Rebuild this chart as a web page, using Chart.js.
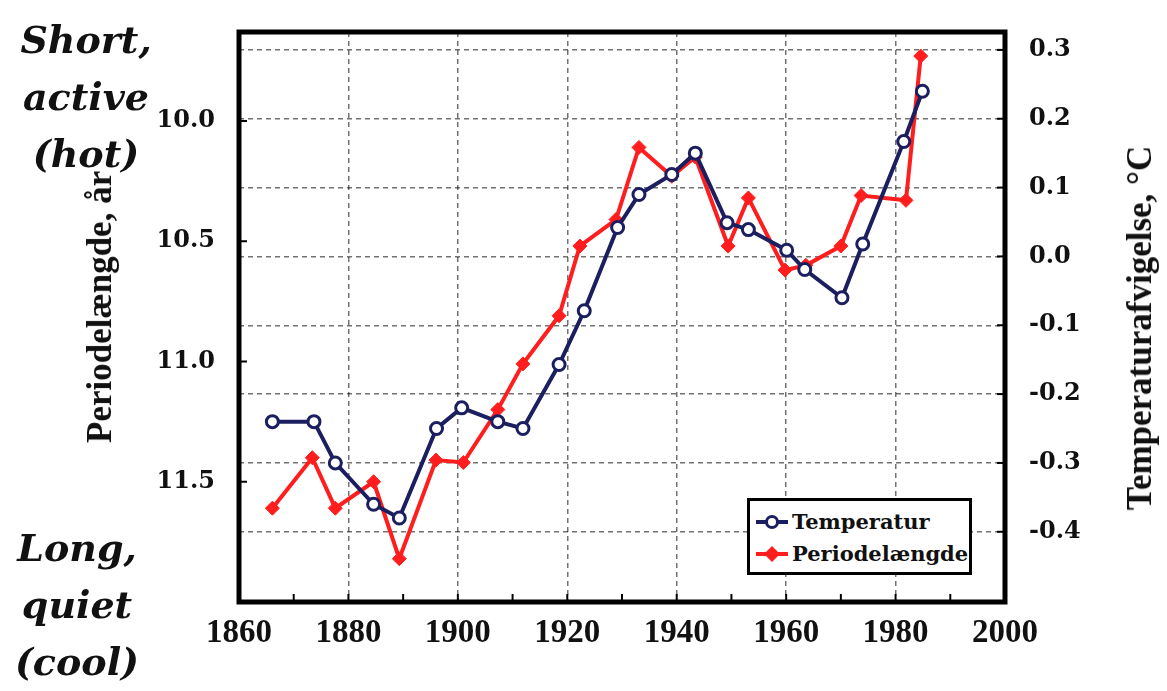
<!DOCTYPE html>
<html>
<head>
<meta charset="utf-8">
<script src="https://cdn.jsdelivr.net/npm/chart.js@4.4.0/dist/chart.umd.min.js"></script>
<style>
html,body{margin:0;padding:0;background:#fff;}
#wrap{position:relative;width:1167px;height:691px;overflow:hidden;background:#fff;}
#c{position:absolute;left:0;top:0;}
.note{position:absolute;font-family:'DejaVu Serif',serif;font-weight:bold;font-style:italic;font-size:38px;line-height:57px;text-align:center;color:#111;white-space:nowrap;}
.atitle{position:absolute;font-family:'Liberation Serif',serif;font-weight:bold;font-size:35px;white-space:nowrap;color:#111;transform:translate(-50%,-50%) rotate(-90deg);}
#legend{position:absolute;left:747px;top:498px;width:219px;height:71px;border:3px solid #000;background:#fff;font-family:'DejaVu Serif',serif;font-weight:bold;font-size:21px;color:#111;}
#legend .row{position:absolute;left:0;height:30px;line-height:30px;white-space:nowrap;}
#legend .row span{position:absolute;left:42px;top:0;}
#legend svg{position:absolute;left:4px;top:5px;}
</style>
</head>
<body>
<div id="wrap">
<canvas id="c" width="1167" height="691"></canvas>
<div class="note" style="left:0;width:172px;top:11px;">Short,<br>active<br>(hot)</div>
<div class="note" style="left:0;width:154px;top:519px;">Long,<br>quiet<br>(cool)</div>
<div class="atitle" id="ltitle" style="left:100px;top:307px;"></div>
<div class="atitle" id="rtitle" style="left:1140px;top:328px;"></div>
<div id="legend"></div>
</div>
<script>
// ---- data ----
const xTickYears = [1860, 1880, 1900, 1920, 1940, 1960, 1980, 2000];
const periodTicks = [10.0, 10.5, 11.0, 11.5];
const tempTicks = [-0.4, -0.3, -0.2, -0.1, 0.0, 0.1, 0.2, 0.3];

const tempLabel = 'Temperatur';
const tempYears = [1866.1, 1873.7, 1877.6, 1884.6, 1889.3, 1896.1, 1900.7, 1907.3, 1911.9, 1918.5, 1923.1, 1929.2, 1933.1, 1939.1, 1943.4, 1949.2, 1953.1, 1960.1, 1963.4, 1970.2, 1974.0, 1981.5, 1984.9];
const tempValues = [-0.24, -0.24, -0.30, -0.36, -0.38, -0.25, -0.22, -0.24, -0.25, -0.157, -0.079, 0.042, 0.09, 0.119, 0.15, 0.049, 0.039, 0.009, -0.019, -0.06, 0.018, 0.167, 0.24];

const periodLabel = 'Periodelængde';
const periodYears = [1866.1, 1873.4, 1877.6, 1884.6, 1889.3, 1896.0, 1901.0, 1907.3, 1911.9, 1918.5, 1922.3, 1928.9, 1933.1, 1939.1, 1943.4, 1949.4, 1953.1, 1959.8, 1963.6, 1970.0, 1973.7, 1981.9, 1984.6];
const periodValues = [11.61, 11.40, 11.61, 11.50, 11.82, 11.41, 11.42, 11.20, 11.01, 10.81, 10.52, 10.41, 10.11, 10.23, 10.15, 10.52, 10.32, 10.62, 10.60, 10.52, 10.31, 10.33, 9.73];

const leftTitle = 'Periodelængde, år';
const rightTitle = 'Temperaturafvigelse, °C';

// ---- colours ----
const navy = '#1c1f5f';
const red = '#ff1d1d';

document.getElementById('ltitle').textContent = leftTitle;
document.getElementById('rtitle').textContent = rightTitle;

// legend (HTML)
const legend = document.getElementById('legend');
legend.innerHTML =
 '<div class="row" style="top:6px;width:100%"><svg width="36" height="20"><line x1="2" y1="10" x2="34" y2="10" stroke="'+navy+'" stroke-width="4"/><circle cx="18" cy="10" r="5.5" fill="#fff" stroke="'+navy+'" stroke-width="3"/></svg><span>'+tempLabel+'</span></div>' +
 '<div class="row" style="top:38px;width:100%"><svg width="36" height="20"><line x1="2" y1="10" x2="34" y2="10" stroke="'+red+'" stroke-width="4"/><polygon points="18,2 26,10 18,18 10,10" fill="'+red+'"/></svg><span>'+periodLabel+'</span></div>';

const frame = {
  id: 'frame',
  afterDraw(chart) {
    const {ctx, chartArea: a, scales} = chart;
    ctx.save();
    ctx.strokeStyle = '#000';
    ctx.lineWidth = 2;
    const xs = scales.x;
    for (let y = 1870; y < 2000; y += 10) {
      const px = xs.getPixelForValue(y);
      ctx.beginPath(); ctx.moveTo(px, a.bottom); ctx.lineTo(px, a.bottom - 8); ctx.stroke();
    }
    periodTicks.forEach(v => {
      const py = scales.yL.getPixelForValue(v);
      ctx.beginPath(); ctx.moveTo(a.left, py); ctx.lineTo(a.left + 8, py); ctx.stroke();
    });
    tempTicks.forEach(v => {
      const py = scales.yR.getPixelForValue(v);
      ctx.beginPath(); ctx.moveTo(a.right, py); ctx.lineTo(a.right - 8, py); ctx.stroke();
    });
    ctx.lineWidth = 5;
    ctx.strokeRect(a.left, a.top, a.right - a.left, a.bottom - a.top);
    ctx.restore();
  }
};

function fixV(w) {
  return s => { s.width = w; s.paddingTop = 0; s.paddingBottom = 0; };
}

new Chart(document.getElementById('c'), {
  type: 'line',
  data: {
    datasets: [
      {
        label: tempLabel,
        data: tempYears.map((x, i) => ({x: x, y: tempValues[i]})),
        yAxisID: 'yR',
        borderColor: navy,
        borderWidth: 4,
        backgroundColor: '#ffffff',
        pointStyle: 'circle',
        pointRadius: 6,
        pointBorderWidth: 3,
        pointBorderColor: navy,
        pointBackgroundColor: '#ffffff',
        tension: 0
      },
      {
        label: periodLabel,
        data: periodYears.map((x, i) => ({x: x, y: periodValues[i]})),
        yAxisID: 'yL',
        borderColor: red,
        borderWidth: 4,
        backgroundColor: red,
        pointStyle: 'rectRot',
        pointRadius: 7,
        pointBorderWidth: 1,
        pointBorderColor: red,
        pointBackgroundColor: red,
        tension: 0
      }
    ]
  },
  options: {
    responsive: false,
    animation: false,
    devicePixelRatio: 1,
    layout: {padding: {top: 32, left: 0, right: 0, bottom: 0}},
    plugins: {legend: {display: false}, tooltip: {enabled: false}},
    scales: {
      x: {
        type: 'linear',
        position: 'bottom',
        min: 1860, max: 2000,
        afterBuildTicks: s => { s.ticks = xTickYears.map(v => ({value: v})); },
        afterFit: s => { s.height = 89; s.paddingLeft = 0; s.paddingRight = 0; },
        ticks: {
          color: '#111',
          padding: 12,
          maxRotation: 0,
          font: {family: 'Liberation Serif', weight: 'bold', size: 33},
          callback: v => String(v)
        },
        grid: {display: true, drawTicks: false, color: 'rgba(20,20,20,0.6)', lineWidth: 1.5},
        border: {display: false, dash: [5, 4]}
      },
      yL: {
        type: 'linear',
        position: 'left',
        reverse: true,
        min: 9.63, max: 12.0,
        afterBuildTicks: s => { s.ticks = periodTicks.map(v => ({value: v})); },
        afterFit: fixV(239),
        ticks: {
          color: '#111',
          padding: 24,
          font: {family: 'DejaVu Serif', weight: 'bold', size: 24},
          callback: v => Number(v).toFixed(1)
        },
        grid: {display: false, drawTicks: false},
        border: {display: false}
      },
      yR: {
        type: 'linear',
        position: 'right',
        min: -0.502, max: 0.326,
        afterBuildTicks: s => { s.ticks = tempTicks.map(v => ({value: v})); },
        afterFit: fixV(162),
        ticks: {
          color: '#111',
          padding: 24,
          font: {family: 'DejaVu Serif', weight: 'bold', size: 24},
          callback: v => Number(v).toFixed(1)
        },
        grid: {display: true, drawTicks: false, color: 'rgba(20,20,20,0.6)', lineWidth: 1.5},
        border: {display: false, dash: [5, 4]}
      }
    }
  },
  plugins: [frame]
});
</script>
</body>
</html>
